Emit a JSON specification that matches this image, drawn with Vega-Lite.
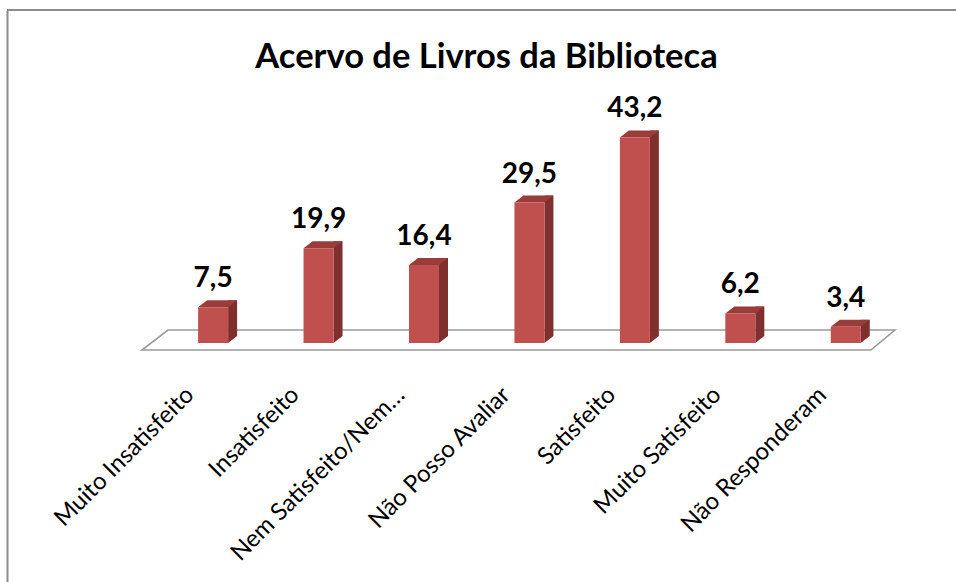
{
  "$schema": "https://vega.github.io/schema/vega-lite/v6.json",
  "width": 949,
  "height": 572,
  "padding": {"left": 6, "top": 9, "right": 0, "bottom": 0},
  "autosize": {"type": "pad"},
  "background": "white",
  "title": {
    "text": "Acervo de Livros da Biblioteca",
    "anchor": "middle",
    "font": "Lato",
    "fontSize": 34.5,
    "fontWeight": "bold",
    "color": "#000000",
    "baseline": "alphabetic",
    "offset": -93,
    "dx": 5
  },
  "data": {
    "values": [
      {"cat": "Muito Insatisfeito", "value": 7.5},
      {"cat": "Insatisfeito", "value": 19.9},
      {"cat": "Nem Satisfeito/Nem…", "value": 16.4},
      {"cat": "Não Posso Avaliar", "value": 29.5},
      {"cat": "Satisfeito", "value": 43.2},
      {"cat": "Muito Satisfeito", "value": 6.2},
      {"cat": "Não Responderam", "value": 3.4}
    ]
  },
  "transform": [
    {"calculate": "replace(format(datum.value, '.1f'), '.', ',')", "as": "label"}
  ],
  "layer": [
    {
      "transform": [{"filter": "datum.cat === 'Não Posso Avaliar'"}],
      "mark": {
        "type": "point",
        "shape": "M -1 0.02656 L 0.93625 0.02656 L 1 -0.02656 L -0.93094 -0.02656 Z",
        "size": 567009,
        "filled": true,
        "fill": "#ffffff",
        "stroke": "#9a9a9a",
        "strokeWidth": 1.6,
        "opacity": 1,
        "xOffset": -11,
        "yOffset": -3
      },
      "encoding": {
        "x": {
          "field": "cat",
          "type": "nominal",
          "sort": null,
          "scale": {
            "domain": ["Muito Insatisfeito", "Insatisfeito", "Nem Satisfeito/Nem…", "Não Posso Avaliar", "Satisfeito", "Muito Satisfeito", "Não Responderam"],
            "paddingInner": 0, "paddingOuter": 1.1037, "align": 0.7273
          },
          "axis": {
            "title": null,
            "domain": false,
            "ticks": false,
            "tickSize": 0,
            "grid": false,
            "labelAngle": -45,
            "labelAlign": "right",
            "labelBaseline": "middle",
            "labelFont": "Lato",
            "labelFontSize": 24,
            "labelColor": "#000000",
            "labelOffset": -23,
            "labelPadding": 11,
            "labelLimit": 400,
            "labelOverlap": false,
            "labelBound": false,
            "offset": -202
          }
        },
        "y": {
          "datum": 0,
          "type": "quantitative",
          "scale": {"domain": [-50.21, 69.96], "nice": false, "zero": false},
          "axis": {
            "orient": "left",
            "title": null,
            "labels": false,
            "ticks": false,
            "grid": false,
            "domain": true,
            "domainColor": "#8c8c8c",
            "domainWidth": 2
          }
        }
      }
    },
    {
      "transform": [{"filter": "datum.cat === 'Não Posso Avaliar'"}],
      "mark": {"type": "rule", "color": "#8c8c8c", "strokeWidth": 2},
      "encoding": {
        "y": {"datum": 69.96, "type": "quantitative"}
      }
    },
    {
      "mark": {
        "type": "point",
        "shape": "M -1 -0.7778 L -1 0.7778 L 1 -0.7778 Z",
        "size": 81,
        "filled": true,
        "color": "#7F302E",
        "strokeWidth": 0,
        "opacity": 1,
        "xOffset": 19.5,
        "yOffset": -3.5
      },
      "encoding": {
        "x": {"field": "cat", "type": "nominal", "sort": null},
        "y": {"datum": 0, "type": "quantitative"}
      }
    },
    {
      "mark": {
        "type": "bar",
        "width": 9,
        "color": "#7F302E",
        "xOffset": 19.5,
        "yOffset": -7,
        "y2Offset": -7
      },
      "encoding": {
        "x": {"field": "cat", "type": "nominal", "sort": null},
        "y": {"field": "value", "type": "quantitative"},
        "y2": {"datum": 0}
      }
    },
    {
      "mark": {
        "type": "point",
        "shape": "M -1 0.1795 L 0.5385 0.1795 L 1 -0.1795 L -0.5385 -0.1795 Z",
        "size": 1521,
        "filled": true,
        "color": "#9A3C39",
        "strokeWidth": 0,
        "opacity": 1,
        "xOffset": 4.5,
        "yOffset": -3.5
      },
      "encoding": {
        "x": {"field": "cat", "type": "nominal", "sort": null},
        "y": {"field": "value", "type": "quantitative"}
      }
    },
    {
      "mark": {"type": "bar", "width": 30, "color": "#C0504D"},
      "encoding": {
        "x": {"field": "cat", "type": "nominal", "sort": null},
        "y": {"field": "value", "type": "quantitative"},
        "y2": {"datum": 0}
      }
    },
    {
      "mark": {
        "type": "text",
        "font": "Lato",
        "fontSize": 28,
        "fontWeight": "bold",
        "color": "#000000",
        "baseline": "alphabetic",
        "align": "center",
        "dy": -20
      },
      "encoding": {
        "x": {"field": "cat", "type": "nominal", "sort": null},
        "y": {"field": "value", "type": "quantitative"},
        "text": {"field": "label"}
      }
    }
  ],
  "config": {
    "view": {"stroke": null},
    "font": "Lato"
  }
}
